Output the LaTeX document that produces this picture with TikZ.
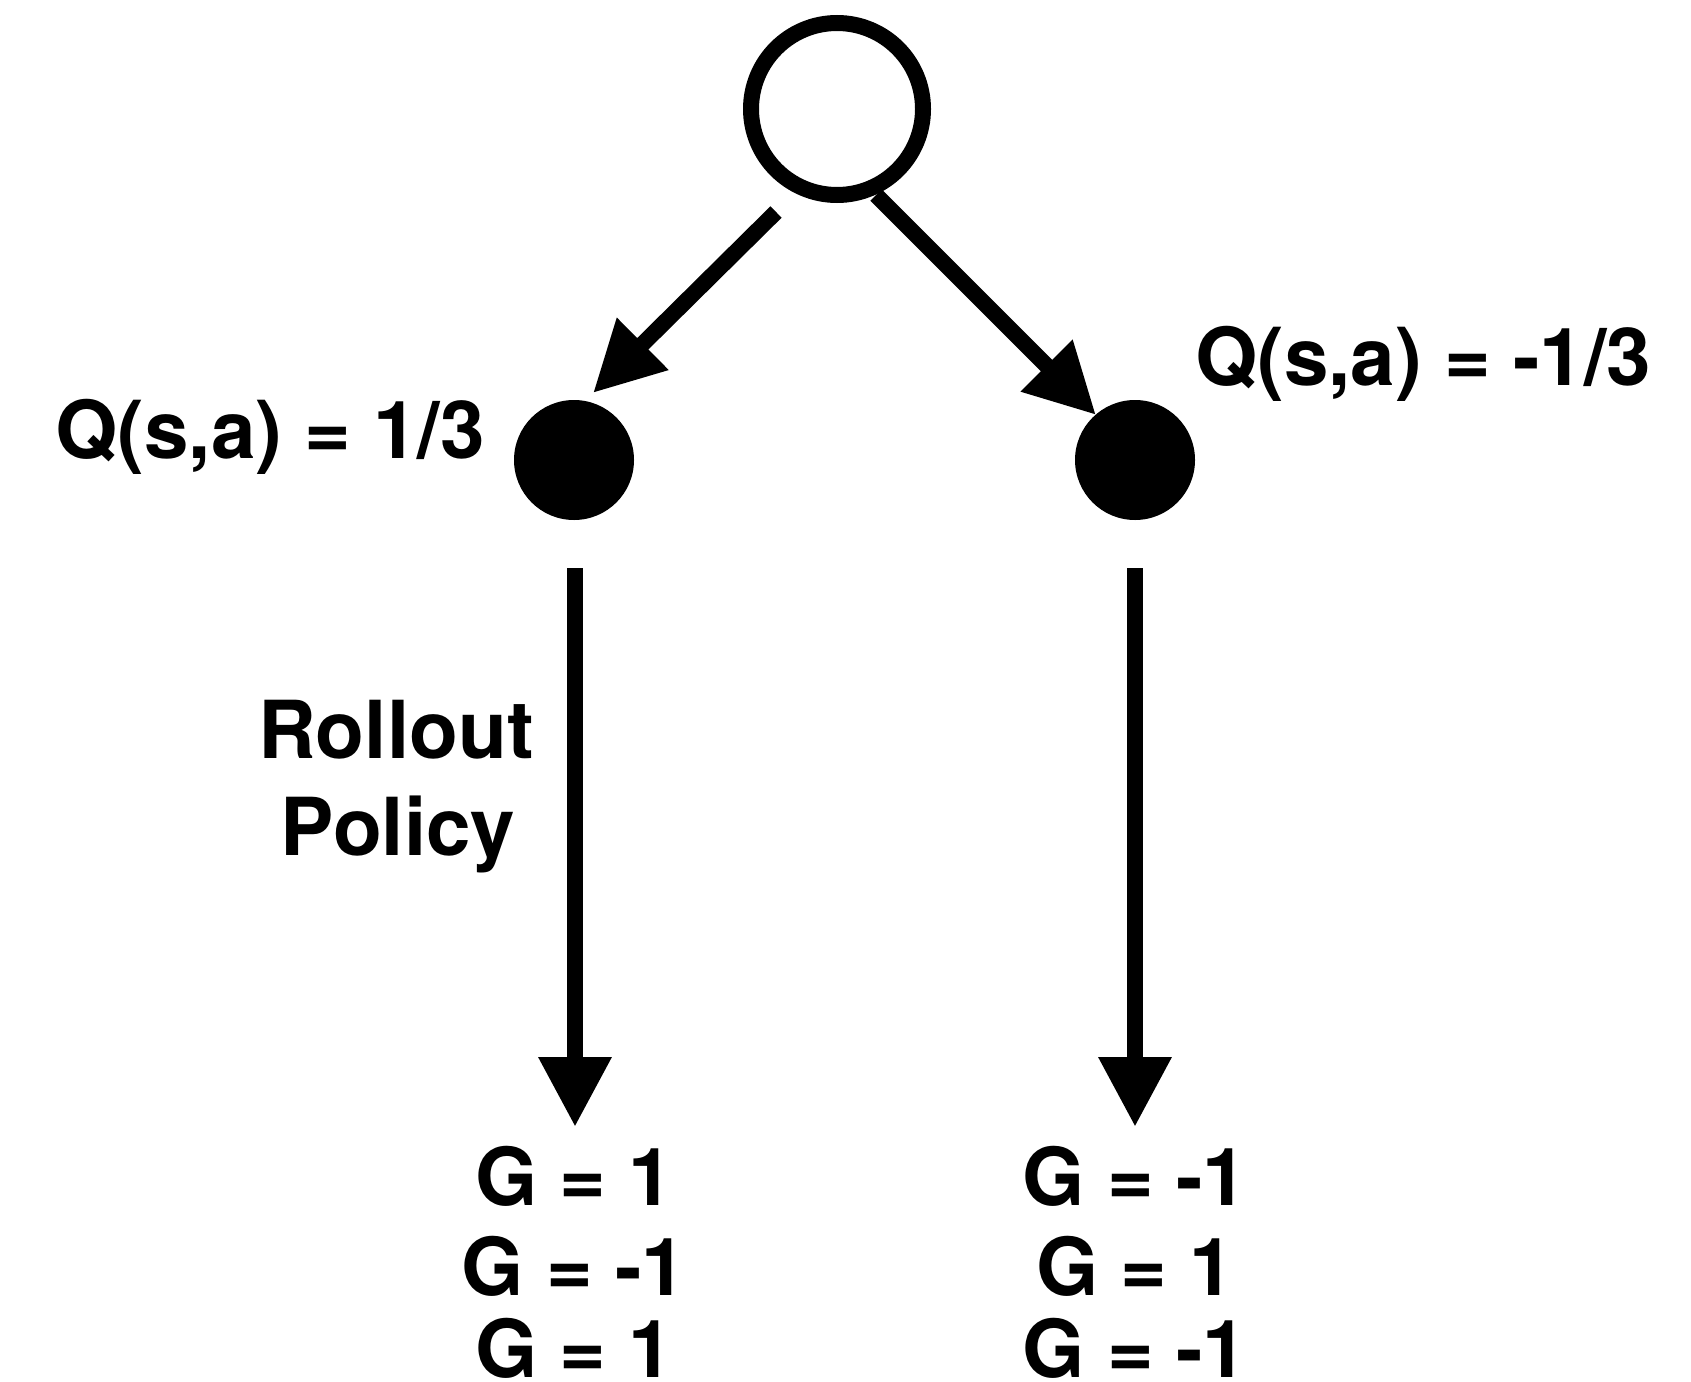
\documentclass[tikz,border=0pt]{standalone}
\usepackage{fontspec}
\setmainfont{TeX Gyre Heros}
\usetikzlibrary{arrows.meta}
\begin{document}
\begin{tikzpicture}[x=1pt,y=-1pt,
  lbl/.style={font=\fontsize{80pt}{96pt}\selectfont\bfseries, inner sep=0pt, anchor=base},
  openstate/.style={circle, draw=black, line width=16pt, minimum size=172pt, inner sep=0pt},
  actionnode/.style={circle, fill=black, minimum size=120pt, inner sep=0pt},
  arr/.style={line width=16pt, -{Triangle[length=70pt,width=69pt]}}]
\useasboundingbox (0,0) rectangle (1691,1381);

% states
\node[openstate] (root) at (837,109) {};
\node[actionnode] (left) at (574,460) {};
\node[actionnode] (right) at (1135,460) {};

% tree edges
\draw[arr] ([shift={(-61,103)}]root.center) -- ([shift={(19,-67)}]left.center);
\draw[arr] ([shift={(39,86)}]root.center) -- ([shift={(-39,-45)}]right.center);

% rollout endpoints
\coordinate (lend) at (575,1127);
\coordinate (rend) at (1135,1127);
\draw[arr] ([shift={(1,108)}]left.center) -- (lend);
\draw[arr] ([shift={(0,108)}]right.center) -- (rend);

% labels
\node[lbl] (qleft) at (270,458) {Q(s,a) = 1/3};
\node[lbl] (qright) at (1423,385) {Q(s,a) = -1/3};
\node[lbl] (rollout) at (396,758) {Rollout};
\node[lbl] (policy) at (398,855) {Policy};

\node[lbl] (gl1) at (574,1205) {G = 1};
\node[lbl] (gl2) at (574,1295) {G = -1};
\node[lbl, text depth=0pt] (gl3) at (574,1377) {G = 1};
\node[lbl] (gr1) at (1135,1205) {G = -1};
\node[lbl] (gr2) at (1135,1295) {G = 1};
\node[lbl, text depth=0pt] (gr3) at (1135,1377) {G = -1};
\end{tikzpicture}
\end{document}
